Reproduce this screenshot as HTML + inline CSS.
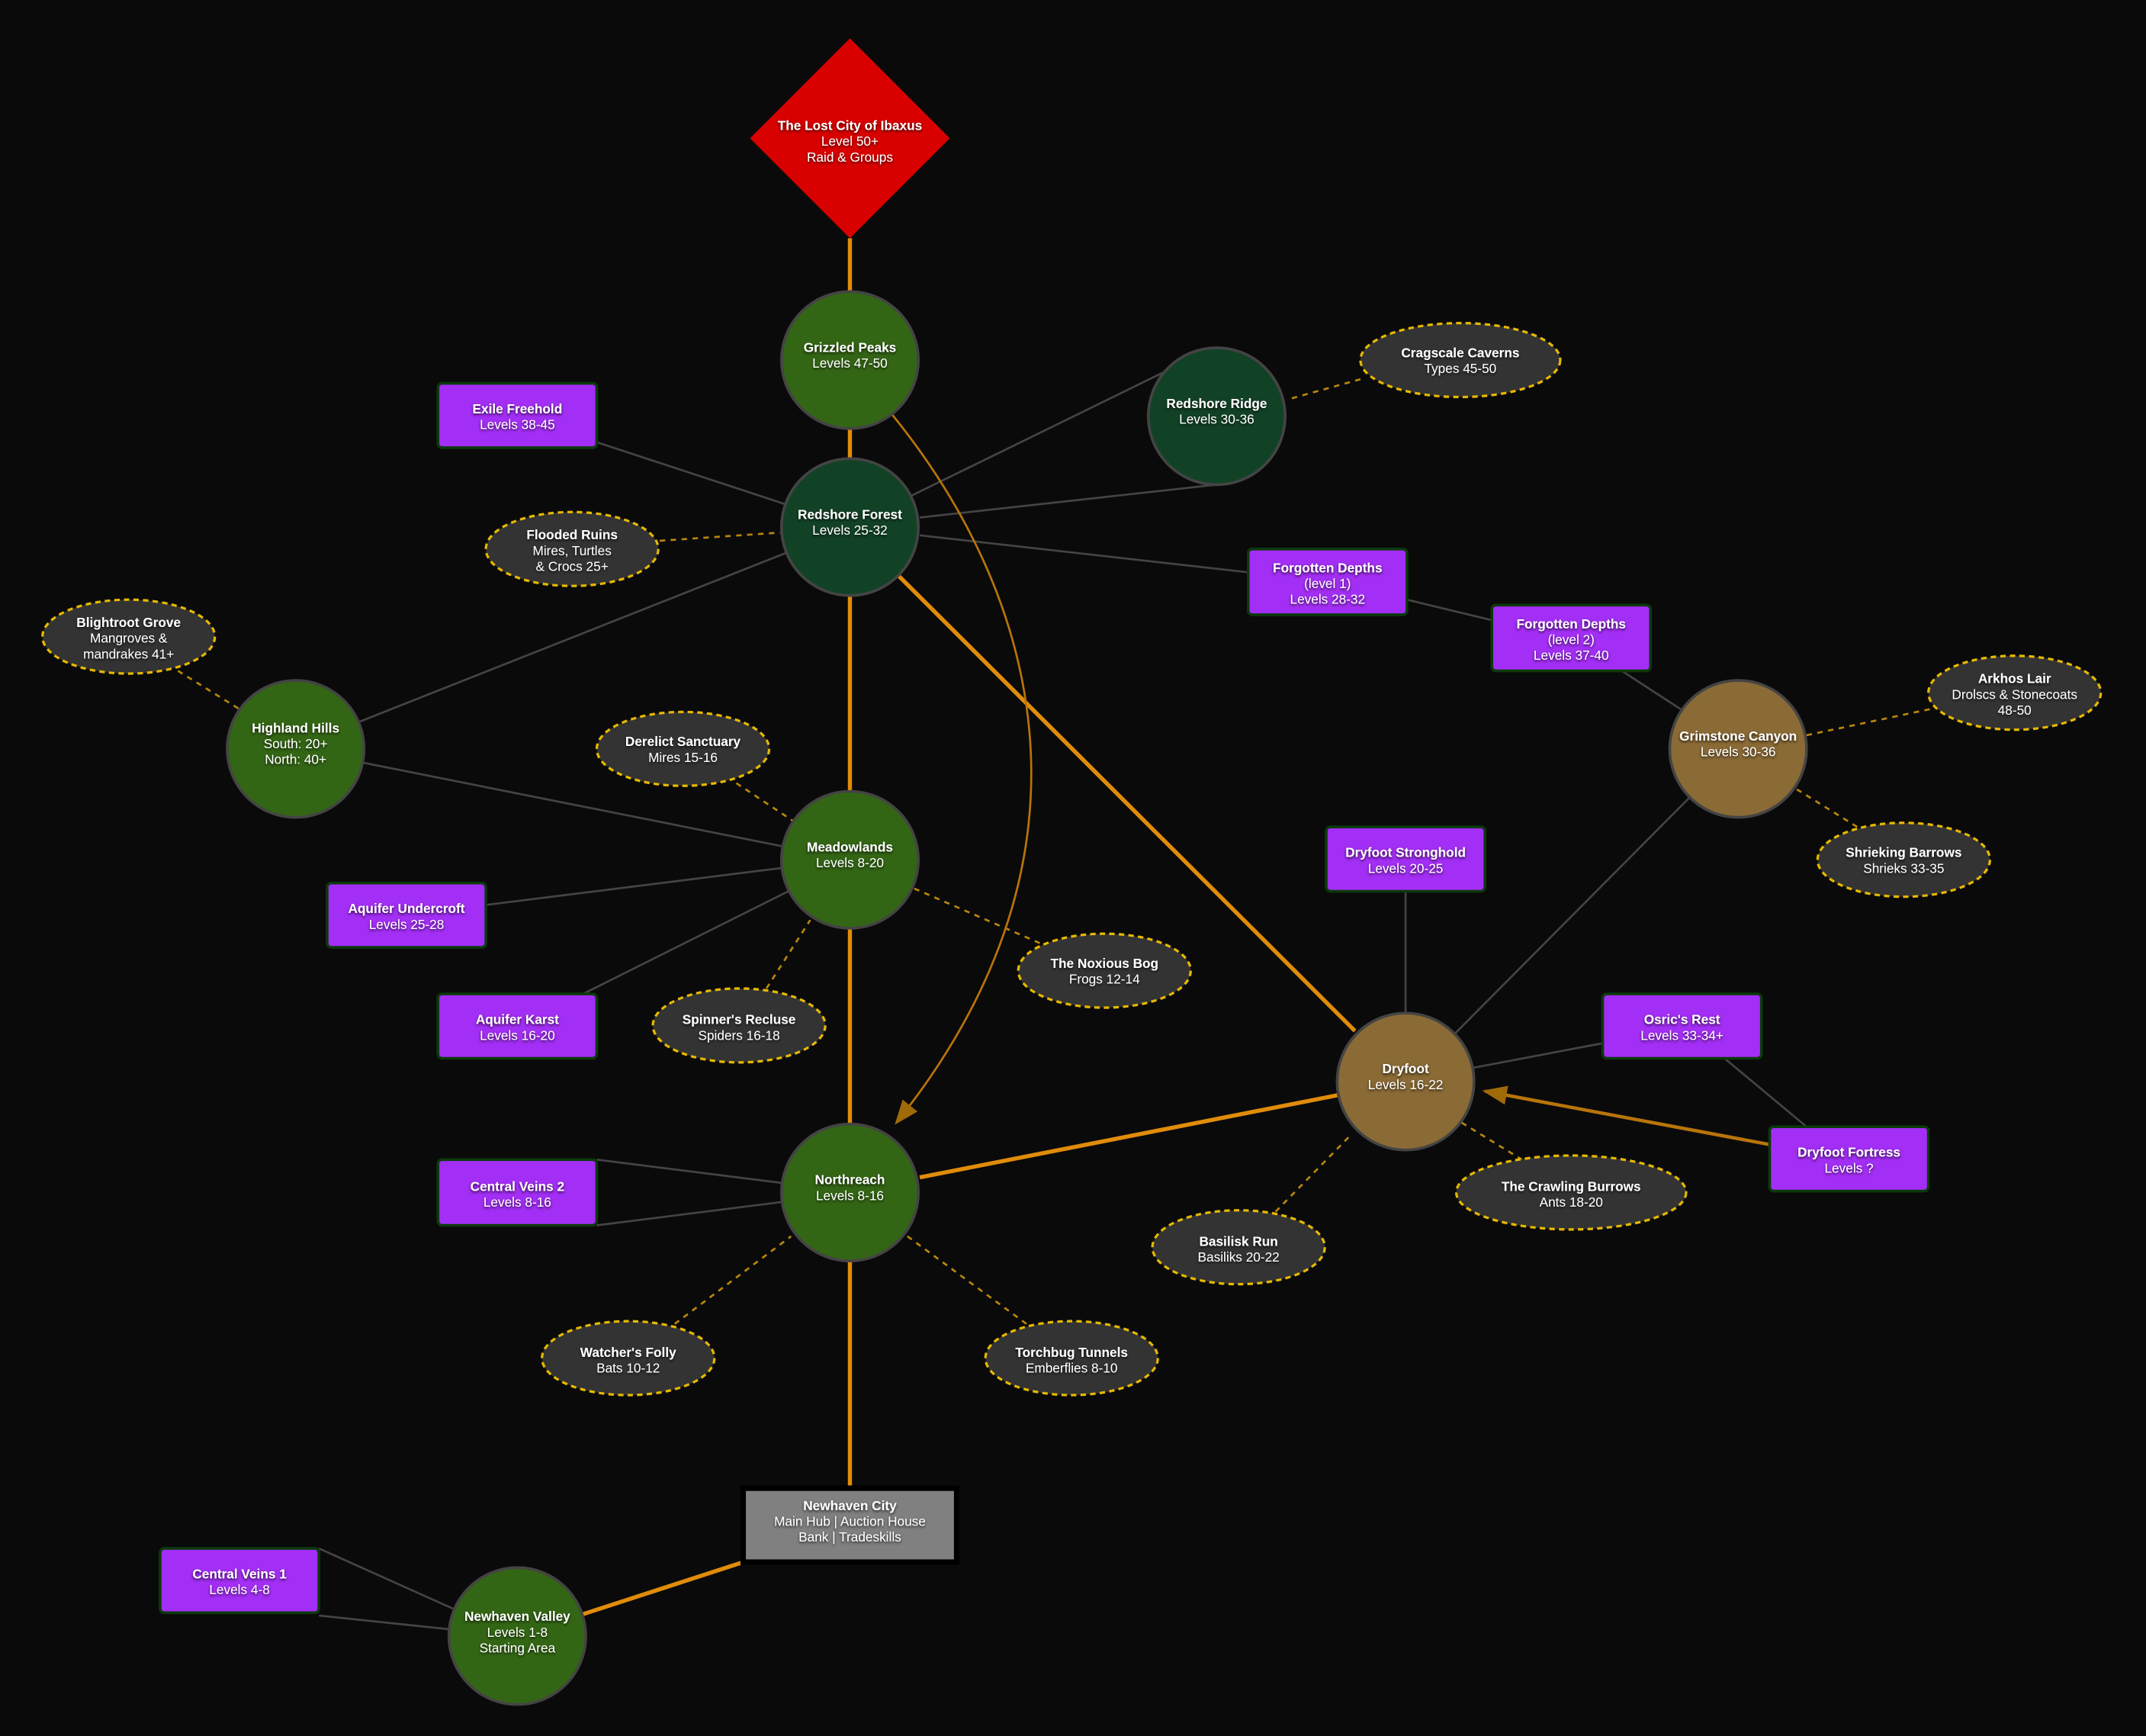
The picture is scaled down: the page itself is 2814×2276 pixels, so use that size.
<!DOCTYPE html>
<html><head><meta charset="utf-8"><style>
html,body{margin:0;padding:0;background:#0a0a0a;}
svg{display:block}
text{font-family:"Liberation Sans",sans-serif;fill:#fff;text-anchor:middle;font-size:9.6px}
.b{font-weight:bold}
</style></head><body>
<svg width="2814" height="2276" viewBox="0 0 1568 1268" preserveAspectRatio="none" xmlns="http://www.w3.org/2000/svg">
<defs>
<filter id="sh" x="-20%" y="-20%" width="140%" height="140%"><feDropShadow dx="0" dy="1" stdDeviation="1" flood-color="#000" flood-opacity="0.8"/></filter>
<marker id="ar2" markerWidth="18" markerHeight="14" refX="16" refY="7" orient="auto" markerUnits="userSpaceOnUse"><path d="M0,0 L18,7 L0,14 z" fill="#a06a08"/></marker>
</defs>
<rect width="1568" height="1268" fill="#0a0a0a"/>
<g stroke="#444" stroke-width="1.5" fill="none">
<line x1="436" y1="323" x2="573" y2="368"/>
<line x1="666" y1="362" x2="850" y2="272"/>
<line x1="672" y1="378" x2="889" y2="354"/>
<line x1="672" y1="391" x2="912" y2="418"/>
<line x1="1028" y1="438" x2="1090" y2="453"/>
<line x1="1185" y1="490" x2="1228" y2="518"/>
<line x1="574" y1="404" x2="263" y2="527"/>
<line x1="265" y1="557" x2="571" y2="618"/>
<line x1="355" y1="661" x2="571" y2="634"/>
<line x1="426" y1="726" x2="576" y2="651"/>
<line x1="1027" y1="651" x2="1027" y2="740"/>
<line x1="1234" y1="583" x2="1063" y2="755"/>
<line x1="1171" y1="762" x2="1076" y2="780"/>
<line x1="1260" y1="773" x2="1320" y2="823"/>
<line x1="436" y1="847" x2="571" y2="864"/>
<line x1="436" y1="895" x2="571" y2="878"/>
<line x1="233" y1="1131" x2="331" y2="1175"/>
<line x1="233" y1="1180" x2="328" y2="1190"/>
</g>
<g stroke="#b8860b" stroke-width="1.5" stroke-dasharray="4,4" fill="none">
<line x1="994" y1="277" x2="940" y2="292"/>
<line x1="482" y1="395" x2="570" y2="389"/>
<line x1="130" y1="490" x2="175" y2="518"/>
<line x1="538" y1="572" x2="580" y2="600"/>
<line x1="668" y1="649" x2="760" y2="689"/>
<line x1="560" y1="722" x2="592" y2="672"/>
<line x1="1410" y1="518" x2="1320" y2="537"/>
<line x1="1357" y1="604" x2="1312" y2="576"/>
<line x1="1068" y1="820" x2="1112" y2="847"/>
<line x1="932" y1="885" x2="987" y2="829"/>
<line x1="493" y1="967" x2="578" y2="903"/>
<line x1="750" y1="967" x2="663" y2="903"/>
</g>
<g stroke="#e08c0a" stroke-width="3" fill="none">
<line x1="621" y1="174" x2="621" y2="213"/>
<line x1="621" y1="313" x2="621" y2="335"/>
<line x1="621" y1="435" x2="621" y2="578"/>
<line x1="621" y1="678" x2="621" y2="821"/>
<line x1="621" y1="921" x2="621" y2="1087"/>
<line x1="657" y1="421" x2="990" y2="753"/>
<line x1="672" y1="860" x2="977" y2="800"/>
<line x1="543" y1="1141" x2="426" y2="1179"/>
</g>
<path d="M652,303 C755,430 815,620 655,820" stroke="#b8740a" stroke-width="1.5" fill="none" marker-end="url(#ar2)"/>
<line x1="1293" y1="836" x2="1085" y2="797" stroke="#b8740a" stroke-width="2.5" marker-end="url(#ar2)"/>
<polygon points="621,28 694,101 621,174 548,101" fill="#d90000"/>
<g stroke="#444" stroke-width="2">
<circle cx="621" cy="263" r="50" fill="#336614"/>
<circle cx="621" cy="385" r="50" fill="#124226"/>
<circle cx="889" cy="304" r="50" fill="#124226"/>
<circle cx="621" cy="628" r="50" fill="#336614"/>
<circle cx="621" cy="871" r="50" fill="#336614"/>
<circle cx="216" cy="547" r="50" fill="#336614"/>
<circle cx="1270" cy="547" r="50" fill="#8a6a35"/>
<circle cx="1027" cy="790" r="50" fill="#8a6a35"/>
<circle cx="378" cy="1195" r="50" fill="#336614"/>
</g>
<rect x="543" y="1087" width="156" height="54" fill="#808080" stroke="#000" stroke-width="4"/>
<g fill="#a32ef5" stroke="#0b3a0b" stroke-width="2">
<rect x="320" y="280" width="116" height="47" rx="3"/>
<rect x="912" y="401" width="116" height="48" rx="3"/>
<rect x="1090" y="442" width="116" height="48" rx="3"/>
<rect x="969" y="604" width="116" height="47" rx="3"/>
<rect x="239" y="645" width="116" height="47" rx="3"/>
<rect x="320" y="726" width="116" height="47" rx="3"/>
<rect x="1171" y="726" width="116" height="47" rx="3"/>
<rect x="1293" y="823" width="116" height="47" rx="3"/>
<rect x="320" y="847" width="116" height="48" rx="3"/>
<rect x="117" y="1131" width="116" height="47" rx="3"/>
</g>
<g fill="#333" stroke="#e6b800" stroke-width="1.8" stroke-dasharray="4,3">
<ellipse cx="1067" cy="263" rx="73" ry="27"/>
<ellipse cx="418" cy="401" rx="63" ry="27"/>
<ellipse cx="94" cy="465" rx="63" ry="27"/>
<ellipse cx="499" cy="547" rx="63" ry="27"/>
<ellipse cx="807" cy="709" rx="63" ry="27"/>
<ellipse cx="540" cy="749" rx="63" ry="27"/>
<ellipse cx="1472" cy="506" rx="63" ry="27"/>
<ellipse cx="1391" cy="628" rx="63" ry="27"/>
<ellipse cx="1148" cy="871" rx="84" ry="27"/>
<ellipse cx="905" cy="911" rx="63" ry="27"/>
<ellipse cx="459" cy="992" rx="63" ry="27"/>
<ellipse cx="783" cy="992" rx="63" ry="27"/>
</g>
<g filter="url(#sh)">
<text x="621" y="95"><tspan class="b">The Lost City of Ibaxus</tspan><tspan x="621" dy="11.5">Level 50+</tspan><tspan x="621" dy="11.5">Raid &amp; Groups</tspan></text>
<text x="621" y="257"><tspan class="b">Grizzled Peaks</tspan><tspan x="621" dy="11.5">Levels 47-50</tspan></text>
<text x="621" y="379"><tspan class="b">Redshore Forest</tspan><tspan x="621" dy="11.5">Levels 25-32</tspan></text>
<text x="889" y="298"><tspan class="b">Redshore Ridge</tspan><tspan x="889" dy="11.5">Levels 30-36</tspan></text>
<text x="621" y="622"><tspan class="b">Meadowlands</tspan><tspan x="621" dy="11.5">Levels 8-20</tspan></text>
<text x="621" y="865"><tspan class="b">Northreach</tspan><tspan x="621" dy="11.5">Levels 8-16</tspan></text>
<text x="216" y="535"><tspan class="b">Highland Hills</tspan><tspan x="216" dy="11.5">South: 20+</tspan><tspan x="216" dy="11.5">North: 40+</tspan></text>
<text x="1270" y="541"><tspan class="b">Grimstone Canyon</tspan><tspan x="1270" dy="11.5">Levels 30-36</tspan></text>
<text x="1027" y="784"><tspan class="b">Dryfoot</tspan><tspan x="1027" dy="11.5">Levels 16-22</tspan></text>
<text x="378" y="1184"><tspan class="b">Newhaven Valley</tspan><tspan x="378" dy="11.5">Levels 1-8</tspan><tspan x="378" dy="11.5">Starting Area</tspan></text>
<text x="621" y="1103"><tspan class="b">Newhaven City</tspan><tspan x="621" dy="11.5">Main Hub | Auction House</tspan><tspan x="621" dy="11.5">Bank | Tradeskills</tspan></text>
<text x="378" y="302"><tspan class="b">Exile Freehold</tspan><tspan x="378" dy="11.5">Levels 38-45</tspan></text>
<text x="970" y="418"><tspan class="b">Forgotten Depths</tspan><tspan x="970" dy="11.5">(level 1)</tspan><tspan x="970" dy="11.5">Levels 28-32</tspan></text>
<text x="1148" y="459"><tspan class="b">Forgotten Depths</tspan><tspan x="1148" dy="11.5">(level 2)</tspan><tspan x="1148" dy="11.5">Levels 37-40</tspan></text>
<text x="1027" y="626"><tspan class="b">Dryfoot Stronghold</tspan><tspan x="1027" dy="11.5">Levels 20-25</tspan></text>
<text x="297" y="667"><tspan class="b">Aquifer Undercroft</tspan><tspan x="297" dy="11.5">Levels 25-28</tspan></text>
<text x="378" y="748"><tspan class="b">Aquifer Karst</tspan><tspan x="378" dy="11.5">Levels 16-20</tspan></text>
<text x="1229" y="748"><tspan class="b">Osric's Rest</tspan><tspan x="1229" dy="11.5">Levels 33-34+</tspan></text>
<text x="1351" y="845"><tspan class="b">Dryfoot Fortress</tspan><tspan x="1351" dy="11.5">Levels ?</tspan></text>
<text x="378" y="870"><tspan class="b">Central Veins 2</tspan><tspan x="378" dy="11.5">Levels 8-16</tspan></text>
<text x="175" y="1153"><tspan class="b">Central Veins 1</tspan><tspan x="175" dy="11.5">Levels 4-8</tspan></text>
<text x="1067" y="261"><tspan class="b">Cragscale Caverns</tspan><tspan x="1067" dy="11.5">Types 45-50</tspan></text>
<text x="418" y="394"><tspan class="b">Flooded Ruins</tspan><tspan x="418" dy="11.5">Mires, Turtles</tspan><tspan x="418" dy="11.5">&amp; Crocs 25+</tspan></text>
<text x="94" y="458"><tspan class="b">Blightroot Grove</tspan><tspan x="94" dy="11.5">Mangroves &amp;</tspan><tspan x="94" dy="11.5">mandrakes 41+</tspan></text>
<text x="499" y="545"><tspan class="b">Derelict Sanctuary</tspan><tspan x="499" dy="11.5">Mires 15-16</tspan></text>
<text x="807" y="707"><tspan class="b">The Noxious Bog</tspan><tspan x="807" dy="11.5">Frogs 12-14</tspan></text>
<text x="540" y="748"><tspan class="b">Spinner's Recluse</tspan><tspan x="540" dy="11.5">Spiders 16-18</tspan></text>
<text x="1472" y="499"><tspan class="b">Arkhos Lair</tspan><tspan x="1472" dy="11.5">Drolscs &amp; Stonecoats</tspan><tspan x="1472" dy="11.5">48-50</tspan></text>
<text x="1391" y="626"><tspan class="b">Shrieking Barrows</tspan><tspan x="1391" dy="11.5">Shrieks 33-35</tspan></text>
<text x="1148" y="870"><tspan class="b">The Crawling Burrows</tspan><tspan x="1148" dy="11.5">Ants 18-20</tspan></text>
<text x="905" y="910"><tspan class="b">Basilisk Run</tspan><tspan x="905" dy="11.5">Basiliks 20-22</tspan></text>
<text x="459" y="991"><tspan class="b">Watcher's Folly</tspan><tspan x="459" dy="11.5">Bats 10-12</tspan></text>
<text x="783" y="991"><tspan class="b">Torchbug Tunnels</tspan><tspan x="783" dy="11.5">Emberflies 8-10</tspan></text>
</g>
</svg>
</body></html>
